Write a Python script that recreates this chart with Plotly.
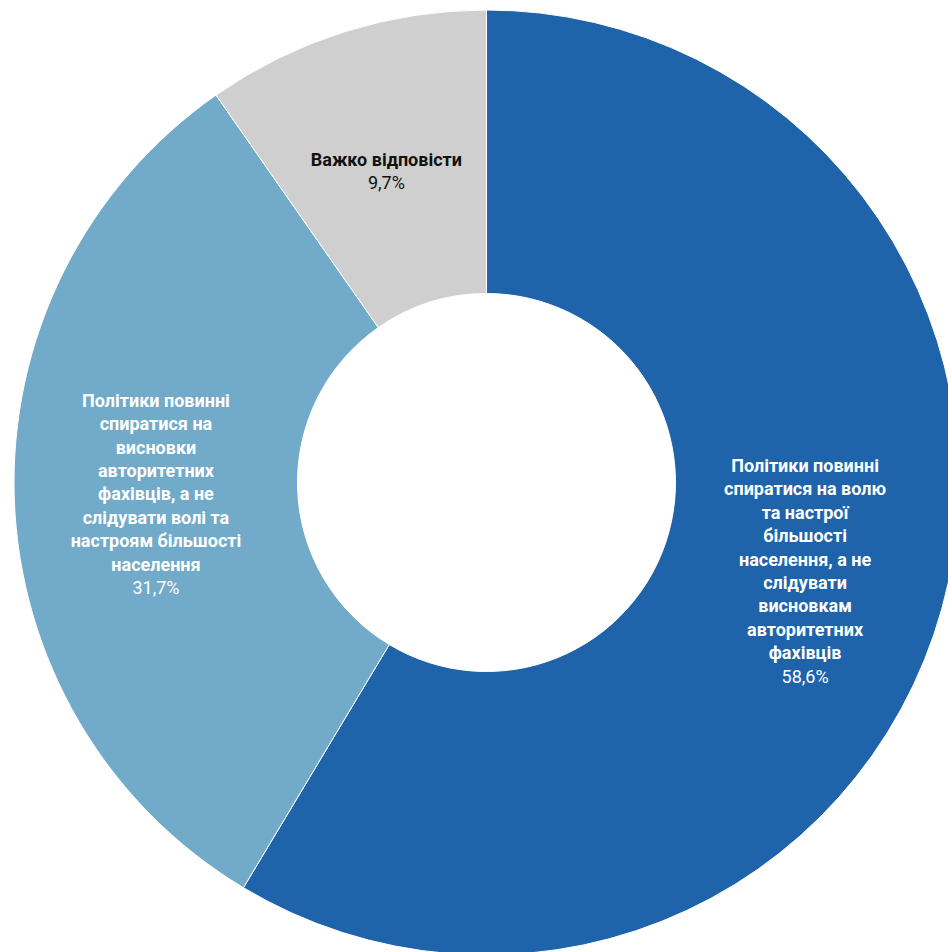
import plotly.graph_objects as go

labels = [
    "Політики повинні<br>спиратися на волю<br>та настрої<br>більшості<br>населення, а не<br>слідувати<br>висновкам<br>авторитетних<br>фахівців",
    "Політики повинні<br>спиратися на<br>висновки<br>авторитетних<br>фахівців, а не<br>слідувати волі та<br>настроям більшості<br>населення",
    "Важко відповісти",
]
values = [58.6, 31.7, 9.7]
colors = ["#1F63AA", "#72AAC9", "#CFCFCF"]
text_colors = ["#FFFFFF", "#FFFFFF", "#111111"]

base_tpl = "<b>%{label}</b><br>%{value:.1f}%"
# small slice: pad with blank lines above / spaces left so its label sits mid-ring
pad = "\u00a0" * 4
small_tpl = "\u00a0<br>\u00a0<br>\u00a0<br>" + pad + "<b>%{label}</b><br>" + pad + "%{value:.1f}%"
templates = [base_tpl, base_tpl, small_tpl]

fig = go.Figure(
    go.Pie(
        labels=labels,
        values=values,
        hole=0.40,
        sort=False,
        direction="clockwise",
        rotation=0,
        marker=dict(colors=colors, line=dict(color="#FFFFFF", width=1)),
        texttemplate=templates,
        textposition="inside",
        insidetextorientation="horizontal",
        textfont=dict(family="Roboto", size=18, color=text_colors),
        showlegend=False,
        hoverinfo="skip",
    )
)

fig.update_layout(
    width=959,
    height=955,
    margin=dict(l=13.5, r=0, t=10, b=0, pad=0),
    paper_bgcolor="#FFFFFF",
    plot_bgcolor="#FFFFFF",
    separators=", ",
    uniformtext=dict(minsize=18, mode="show"),
)

fig.write_html(
    "out.html",
    post_script="document.body.style.margin='0';document.body.style.overflow='hidden';",
    config={"displayModeBar": False},
)
